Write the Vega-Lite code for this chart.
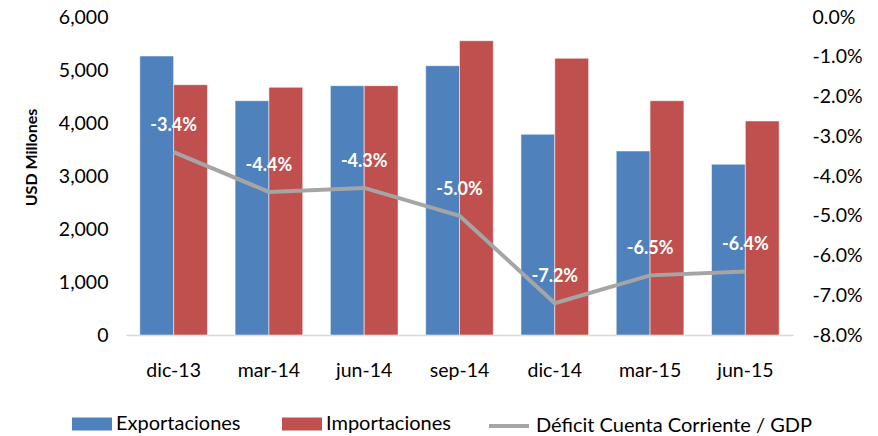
{
  "$schema": "https://vega.github.io/schema/vega-lite/v6.json",
  "autosize": {"type": "none"},
  "padding": {"left": 126, "top": 17, "right": 85, "bottom": 101},
  "width": 667,
  "height": 318,
  "config": {
    "view": {"stroke": null},
    "font": "Lato",
    "locale": {"number": {"decimal": ".", "thousands": ",", "grouping": [3], "currency": ["$", ""], "minus": "-"}},
    "axis": {"labelFont": "Lato", "labelFontSize": 19.5, "labelColor": "#000000", "titleFont": "Lato", "titleColor": "#000000"},
    "legend": {"labelFont": "Lato", "labelFontSize": 20, "labelColor": "#000000", "labelLimit": 0}
  },
  "data": {
    "values": [
      {"periodo": "dic-13", "Exportaciones": 5264, "Importaciones": 4723, "deficit": -0.034},
      {"periodo": "mar-14", "Exportaciones": 4421, "Importaciones": 4673, "deficit": -0.044},
      {"periodo": "jun-14", "Exportaciones": 4704, "Importaciones": 4704, "deficit": -0.043},
      {"periodo": "sep-14", "Exportaciones": 5081, "Importaciones": 5553, "deficit": -0.050},
      {"periodo": "dic-14", "Exportaciones": 3787, "Importaciones": 5221, "deficit": -0.072},
      {"periodo": "mar-15", "Exportaciones": 3472, "Importaciones": 4421, "deficit": -0.065},
      {"periodo": "jun-15", "Exportaciones": 3221, "Importaciones": 4038, "deficit": -0.064}
    ]
  },
  "layer": [
    {
      "transform": [{"fold": ["Exportaciones", "Importaciones"], "as": ["serie", "valor"]}],
      "mark": {"type": "bar", "stroke": "#ffffff", "strokeOpacity": 0.5, "strokeWidth": 1},
      "encoding": {
        "x": {
          "field": "periodo", "type": "nominal", "sort": null,
          "scale": {"paddingInner": 0.29, "paddingOuter": 0.145},
          "axis": {"title": null, "labelAngle": 0, "ticks": false, "domainColor": "#D9D9D9", "domainWidth": 1.5, "labelPadding": 26}
        },
        "xOffset": {"field": "serie", "type": "nominal", "sort": ["Exportaciones", "Importaciones"], "scale": {"paddingInner": 0, "paddingOuter": 0}},
        "y": {
          "field": "valor", "type": "quantitative",
          "scale": {"domain": [0, 6000], "nice": false},
          "axis": {"title": "USD Millones", "titleFontSize": 16, "titleFontWeight": "bold", "titlePadding": 19, "titleY": 140, "values": [0, 1000, 2000, 3000, 4000, 5000, 6000], "format": ",d", "grid": false, "ticks": false, "domain": false, "labelPadding": 18}
        },
        "fill": {
          "field": "serie", "type": "nominal",
          "scale": {"domain": ["Exportaciones", "Importaciones"], "range": ["#4F81BD", "#C0504D"]},
          "legend": {"title": null, "orient": "none", "direction": "horizontal", "legendX": -54, "legendY": 387, "symbolType": "M-1,-0.33H1V0.33H-1Z", "symbolSize": 1600, "symbolStrokeWidth": 0, "labelOffset": 4, "columnPadding": 41}
        }
      }
    },
    {
      "mark": {"type": "line", "strokeWidth": 4},
      "encoding": {
        "x": {"field": "periodo", "type": "nominal", "sort": null},
        "y": {
          "field": "deficit", "type": "quantitative",
          "scale": {"domain": [-0.08, 0], "nice": false},
          "axis": {"orient": "right", "title": null, "format": ".1%", "values": [0, -0.01, -0.02, -0.03, -0.04, -0.05, -0.06, -0.07, -0.08], "grid": false, "ticks": false, "domain": false, "labelPadding": 19}
        },
        "stroke": {
          "datum": "Déficit Cuenta Corriente / GDP", "type": "nominal",
          "scale": {"range": ["#A5A5A5"]},
          "legend": {"title": null, "orient": "none", "legendX": 361, "legendY": 387, "symbolType": "stroke", "symbolSize": 1600, "symbolStrokeWidth": 4, "labelOffset": 5}
        }
      }
    },
    {
      "mark": {"type": "text", "dy": -26, "color": "#ffffff", "fontWeight": "bold", "fontSize": 18, "font": "Lato"},
      "encoding": {
        "x": {"field": "periodo", "type": "nominal", "sort": null},
        "y": {"field": "deficit", "type": "quantitative", "scale": {"domain": [-0.08, 0], "nice": false}, "axis": null},
        "text": {"field": "deficit", "type": "quantitative", "format": ".1%"}
      }
    }
  ],
  "resolve": {"scale": {"y": "independent"}}
}
